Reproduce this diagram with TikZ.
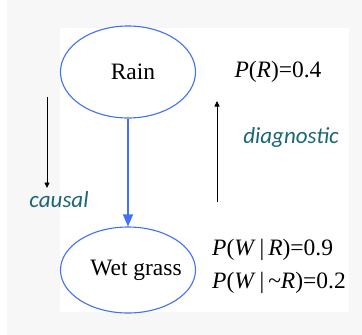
\documentclass[tikz,border=0pt]{standalone}
\usepackage{fontspec}
\setmainfont{Liberation Serif}
\newfontfamily\cuefont{Carlito}
\usetikzlibrary{arrows.meta,shapes.geometric,positioning}
\definecolor{nodeblue}{HTML}{4470F2}
\definecolor{cueteal}{HTML}{1B6677}
\definecolor{slidegray}{HTML}{F7F7F7}

\begin{document}
\begin{tikzpicture}[x=1pt,y=-1pt,
  var/.style={ellipse, draw=nodeblue, line width=1.1pt, fill=white,
              minimum width=135pt, minimum height=92pt, inner sep=0pt,
              font=\fontsize{23.5}{27}\selectfont},
  prob/.style={align=left, inner sep=0pt, font=\fontsize{23.5}{33}\selectfont},
  cue/.style={inner sep=0pt, text=cueteal, font=\cuefont\itshape\fontsize{23}{27}\selectfont},
  edge/.style={-{Triangle[length=12pt,width=10pt]}, draw=nodeblue, line width=1.1pt},
  dir/.style={-{Triangle[length=5.5pt,width=5pt]}, black, line width=0.8pt},
]
% ---- slide background ----
\useasboundingbox (0,0) rectangle (362,335);
\fill[slidegray] (7,0) rectangle (362,335);
\fill[white] (60,28) rectangle (349,312);

% ---- variables ----
\node[var] (rain) at (128,72) {\hspace{10pt}Rain};
\node[var, minimum height=86pt, inner xsep=-8pt] (wet) at (128,270) {\hspace{16pt}Wet grass};

% ---- probabilities ----
\node[prob] (prior) at (278,72) {\textit{P}(\textit{R})=0.4};
\node[prob] (cpt) at (279,266)
  {\textit{P}(\textit{W}\,|\,\textit{R})=0.9\\\textit{P}(\textit{W}\,|\,\textasciitilde\textit{R})=0.2};

% ---- reasoning directions ----
\coordinate (causal-from) at (47,97);
\coordinate (causal-to)   at (47,188);
\coordinate (diag-from)   at (217,202);
\coordinate (diag-to)     at (217,101);
\node[cue] (causal) at (59,200) {causal};
\node[cue] (diag) at (291,137) {diagnostic};

% ---- edges ----
\draw[edge] (rain.south) -- (wet.north);
\draw[dir] (causal-from) -- (causal-to);
\draw[dir] (diag-from) -- (diag-to);
\end{tikzpicture}
\end{document}
